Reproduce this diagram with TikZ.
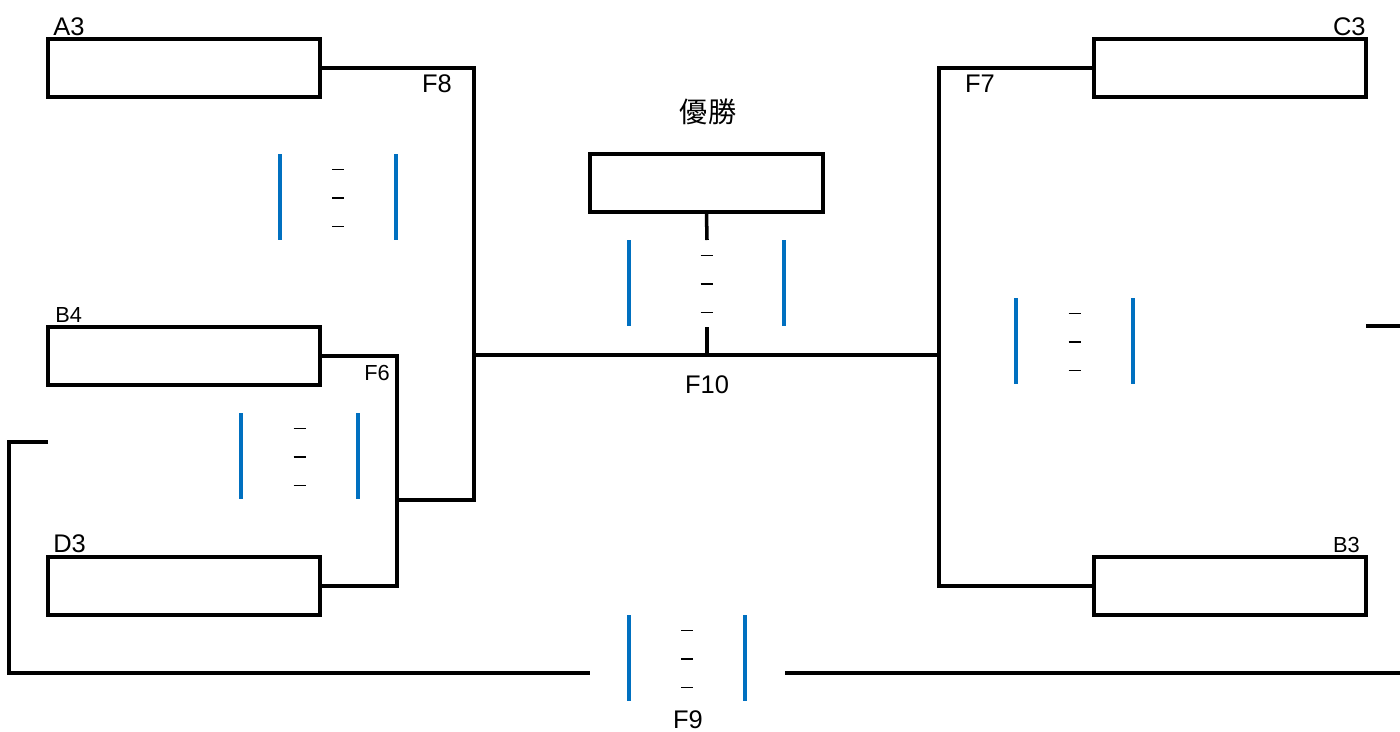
\documentclass[tikz,border=0pt]{standalone}
\usepackage{fontspec}
\setmainfont{Liberation Sans}
\newfontfamily\jpfont{Noto Sans CJK JP}
\usetikzlibrary{positioning}
\definecolor{scoreblue}{HTML}{0070C0}
% two blue bars and three dashes: left x, right x, top y
\newcommand{\scoremarks}[3]{%
  \draw[scorebar] (#1,#3) -- ++(0,86);
  \draw[scorebar] (#2,#3) -- ++(0,86);
  \foreach \dy in {15.5,44,72.5}
    \draw[dashmark] ({(#1+#2)/2-6},#3+\dy) -- ++(12,0);
}

\begin{document}
\begin{tikzpicture}[x=0.02cm,y=-0.02cm,
    team/.style={draw, line width=1.9pt, minimum width=5.44cm, minimum height=1.16cm, inner sep=0pt},
    wire/.style={line width=2pt},
    scorebar/.style={scoreblue, line width=2pt},
    dashmark/.style={line width=0.9pt},
    big/.style={font=\fontsize{14.5}{16}\selectfont, inner sep=0pt},
    small/.style={font=\fontsize{12.4}{14}\selectfont, inner sep=0pt}]
    \useasboundingbox (0,0) rectangle (1400,731);

    % team boxes
    \node[team] (A3) at (184,68) {};
    \node[team] (B4) at (184,356) {};
    \node[team] (D3) at (184,586) {};
    \node[team] (C3) at (1230,68) {};
    \node[team] (B3) at (1230,586) {};
    \node[team, minimum width=4.66cm] (win) at (706.5,183) {};

    % box labels
    \node[big, anchor=base west] (lA3) at (53,35) {A3};
    \node[small, anchor=base west] (lB4) at (55,322) {B4};
    \node[big, anchor=base west] (lD3) at (53,552) {D3};
    \node[big, anchor=base east] (lC3) at (1366,35) {C3};
    \node[small, anchor=base east] (lB3) at (1360,552) {B3};
    \node[font=\jpfont\fontsize{16}{18}\selectfont, inner sep=0pt] (lwin) at (708,112) {優勝};

    % bracket lines
    \coordinate (f6) at (397,500);
    \coordinate (f8) at (474,500);
    \coordinate (f8m) at (474,355);
    \coordinate (f7m) at (939,355);
    \coordinate (f10) at (707,355);
    \draw[wire] (A3.east) -| (f8) -- (f6);
    \draw[wire] (B4.east) -| (397,586) -- (D3.east);
    \draw[wire] (f8m) -- (f7m);
    \draw[wire] (C3.west) -| (939,586) -- (B3.west);
    \draw[wire] (win.south) -- (707,240);
    \draw[wire] (707,327) -- (f10);
    \draw[wire] (1366,326) -- (1400,326);
    \draw[wire] (48,442) -- (9,442) -- (9,673) -- (590,673);
    \draw[wire] (785,673) -- (1400,673);

    % match labels
    \node[big, anchor=base] (lF8) at (437,92) {F8};
    \node[small, anchor=base] (lF6) at (377,380) {F6};
    \node[big, anchor=base] (lF7) at (980,92) {F7};
    \node[big, anchor=base] (lF10) at (707,393) {F10};
    \node[big, anchor=base] (lF9) at (688,728) {F9};

    % score marks
    \scoremarks{280}{396}{154}
    \scoremarks{241}{358}{413}
    \scoremarks{629}{784}{240}
    \scoremarks{1016}{1133}{298}
    \scoremarks{629}{745}{615}
\end{tikzpicture}
\end{document}
